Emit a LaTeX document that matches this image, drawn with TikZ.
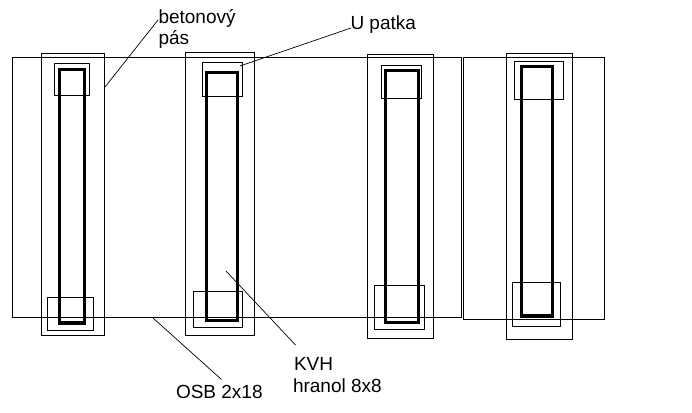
\documentclass[tikz,border=0pt]{standalone}
\usepackage{fontspec}
\setmainfont{Liberation Sans}
\tikzset{
  thinbox/.style={draw=black,line width=1pt},
  beam/.style={draw=black,line width=3.2pt},
  leader/.style={draw=black,line width=0.7pt},
  label/.style={anchor=base west,inner sep=0pt,outer sep=0pt,font=\fontsize{19pt}{20pt}\selectfont,text=black}
}
\begin{document}
\begin{tikzpicture}[x=1pt,y=-1pt]
\useasboundingbox (0,0) rectangle (692,412);
% OSB boards
\draw[thinbox] (12.5,57.5) rectangle (461.7,317.5);
\draw[thinbox] (463.5,57.5) rectangle (604.5,319.5);
% concrete strips
\draw[thinbox] (41.5,53.5) rectangle (104.5,335);
\draw[thinbox] (185.5,52.5) rectangle (254.5,335);
\draw[thinbox] (367.5,54.5) rectangle (433.5,338.5);
\draw[thinbox] (506.5,53.5) rectangle (572.5,339.5);
% top brackets
\draw[thinbox] (54.5,63.5) rectangle (89.5,95.5);
\draw[thinbox] (202.5,62.5) rectangle (242.5,96.5);
\draw[thinbox] (381.5,65.5) rectangle (421.5,98.5);
\draw[thinbox] (514.5,61.5) rectangle (563.5,99.5);
% bottom brackets
\draw[thinbox] (47.5,297.5) rectangle (93.5,330.5);
\draw[thinbox] (193.5,291.5) rectangle (242.5,327.5);
\draw[thinbox] (374.5,285.5) rectangle (424.5,329.5);
\draw[thinbox] (512.5,282.5) rectangle (560.5,326.5);
% beams
\draw[beam] (59.5,69.5) rectangle (84.5,323);
\draw[beam] (206.5,72.5) rectangle (237.5,320.5);
\draw[beam] (385.5,70.5) rectangle (418.5,322.5);
\draw[beam] (521.5,66.5) rectangle (552.5,316);
% labels
\node[label] (beton1) at (158.5,23.5) {betonový};
\node[label] (beton2) at (158.5,44.5) {pás};
\node[label] (upatka) at (350.5,29.5) {U patka};
\node[label] (kvh) at (294,370) {KVH};
\node[label] (hranol) at (293,392) {hranol 8x8};
\node[label] (osb) at (176,398) {OSB 2x18};
% leader ends
\coordinate (toBeton) at (105,87);
\coordinate (fromBeton) at (158,20);
\coordinate (toPatka) at (240,66);
\coordinate (fromPatka) at (351,28);
\coordinate (toKvh) at (226,271);
\coordinate (fromKvh) at (295.5,345);
\coordinate (toOsb) at (153,318);
\coordinate (fromOsb) at (221.5,379.5);
\draw[leader] (fromBeton) -- (toBeton);
\draw[leader] (fromPatka) -- (toPatka);
\draw[leader] (fromKvh) -- (toKvh);
\draw[leader] (fromOsb) -- (toOsb);
\end{tikzpicture}
\end{document}
